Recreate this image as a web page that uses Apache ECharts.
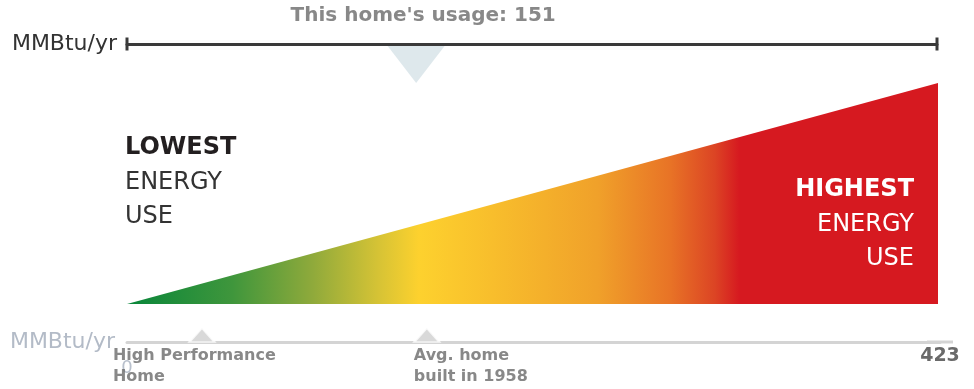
<!DOCTYPE html>
<html>
<head>
<meta charset="utf-8">
<script src="https://cdn.jsdelivr.net/npm/echarts@6/dist/echarts.min.js"></script>
<style>
html,body{margin:0;padding:0;background:#fff;}
#chart{width:974px;height:389px;}
</style>
</head>
<body>
<div id="chart"></div>
<script>
// ---- data ----
var unitLabel = 'MMBtu/yr';
var scaleMin = 0;
var scaleMax = 423;
var homeUsage = 151;
var homeLabel = "This home's usage: ";
var markerNames = ['High Performance\nHome', 'Avg. home\nbuilt in 1958'];
var markerValues = [39, 156];
var lowText = ['LOWEST', 'ENERGY', 'USE'];
var highText = ['HIGHEST', 'ENERGY', 'USE'];

var FONT = 'DejaVu Sans';
var chart = echarts.init(document.getElementById('chart'), null, {renderer: 'canvas'});

var gradient = new echarts.graphic.LinearGradient(0, 0, 1, 0, [
  {offset: 0.00, color: '#08863a'},
  {offset: 0.13, color: '#3f963c'},
  {offset: 0.23, color: '#90aa3b'},
  {offset: 0.31, color: '#d6c335'},
  {offset: 0.36, color: '#fdd12e'},
  {offset: 0.45, color: '#f8be2c'},
  {offset: 0.58, color: '#f0a12a'},
  {offset: 0.67, color: '#e87326'},
  {offset: 0.725, color: '#dc4424'},
  {offset: 0.755, color: '#d61920'},
  {offset: 1.00, color: '#d61920'}
]);

var option = {
  animation: false,
  textStyle: {fontFamily: FONT},
  grid: [
    {left: 127, right: 37, top: 44, height: 39},
    {left: 127, right: 36, top: 83, bottom: 85},
    {left: 127, right: 34, top: 300, height: 42}
  ],
  xAxis: [
    {
      gridIndex: 0, type: 'value', position: 'top', min: scaleMin, max: scaleMax,
      name: unitLabel, nameLocation: 'start', nameGap: 10,
      nameTextStyle: {color: '#333', fontSize: 22, fontFamily: FONT},
      axisLine: {show: true, onZero: false, symbol: ['rect', 'rect'], symbolSize: [13, 3],
                 lineStyle: {color: '#3a3a3a', width: 3}},
      axisTick: {show: false}, axisLabel: {show: false}, splitLine: {show: false}
    },
    {
      gridIndex: 1, type: 'value', min: scaleMin, max: scaleMax, show: false
    },
    {
      gridIndex: 2, type: 'value', position: 'bottom', min: scaleMin, max: scaleMax,
      interval: scaleMax,
      name: unitLabel, nameLocation: 'start', nameGap: 12,
      nameTextStyle: {color: '#b3bbc7', fontSize: 22, fontFamily: FONT},
      axisLine: {show: true, onZero: false, symbol: ['none', 'rect'], symbolSize: [3, 26],
                 lineStyle: {color: '#d4d4d4', width: 3}},
      axisTick: {show: false}, splitLine: {show: false},
      axisLabel: {
        show: true, margin: 4,
        formatter: function (v) { return v === scaleMin ? '{z|' + v + '}' : '{m|' + v + '}'; },
        rich: {
          z: {color: '#b8c0cc', fontSize: 18, lineHeight: 44, fontFamily: FONT},
          m: {color: '#6a6a6a', fontSize: 19, fontWeight: 'bold', lineHeight: 20, fontFamily: FONT}
        }
      }
    }
  ],
  yAxis: [
    {gridIndex: 0, type: 'value', min: 0, max: 1, show: false},
    {gridIndex: 1, type: 'value', min: scaleMin, max: scaleMax, show: false},
    {gridIndex: 2, type: 'value', min: 0, max: 1, show: false}
  ],
  series: [
    {
      type: 'line', xAxisIndex: 1, yAxisIndex: 1,
      data: [[scaleMin, scaleMin], [scaleMax, scaleMax]],
      showSymbol: false, symbol: 'none',
      lineStyle: {width: 0},
      areaStyle: {color: gradient, opacity: 1, origin: 'start'},
      silent: true
    },
    {
      type: 'scatter', xAxisIndex: 0, yAxisIndex: 0,
      data: [[homeUsage, 1]],
      symbol: 'triangle', symbolRotate: 180, symbolSize: [57, 37],
      symbolOffset: [0, 20.5],
      itemStyle: {color: '#d6e2e7'},
      label: {
        show: true, position: 'top', distance: 20, offset: [7, 0],
        formatter: function (p) { return homeLabel + p.value[0]; },
        color: '#6a6a6a', fontSize: 20, fontWeight: 'bold', lineHeight: 20, fontFamily: FONT
      },
      z: 5
    },
    {
      type: 'scatter', xAxisIndex: 2, yAxisIndex: 2,
      data: markerValues.map(function (v, i) {
        return {
          value: [v, 0], name: markerNames[i],
          label: {offset: [i === 0 ? -89 : -13, 0]}
        };
      }),
      symbol: 'triangle', symbolSize: [25, 14], symbolOffset: [0, -7],
      itemStyle: {color: '#cfcfcf', borderColor: '#fff', borderWidth: 2},
      label: {
        show: true, position: 'bottom', distance: 3, align: 'left',
        formatter: function (p) { return p.name; },
        color: '#6a6a6a', fontSize: 16, fontWeight: 'bold', lineHeight: 21, fontFamily: FONT
      },
      z: 5
    }
  ],
  graphic: [
    {
      type: 'text', left: 125, top: 136, z: 10,
      style: {
        text: '{b|' + lowText[0] + '}\n{r|' + lowText[1] + '}\n{r|' + lowText[2] + '}',
        rich: {
          b: {fontSize: 24, fontWeight: 'bold', fill: '#231f20', lineHeight: 34.5, fontFamily: FONT},
          r: {fontSize: 24, fill: '#333', lineHeight: 34.5, fontFamily: FONT}
        }
      }
    },
    {
      type: 'text', right: 60, top: 178, z: 10,
      style: {
        text: '{b|' + highText[0] + '}\n{r|' + highText[1] + '}\n{r|' + highText[2] + '}',
        align: 'right',
        rich: {
          b: {fontSize: 24, fontWeight: 'bold', fill: '#fff', lineHeight: 34.5, fontFamily: FONT, align: 'right'},
          r: {fontSize: 24, fill: '#fff', lineHeight: 34.5, fontFamily: FONT, align: 'right'}
        }
      }
    }
  ]
};
chart.setOption(option);
</script>
</body>
</html>
